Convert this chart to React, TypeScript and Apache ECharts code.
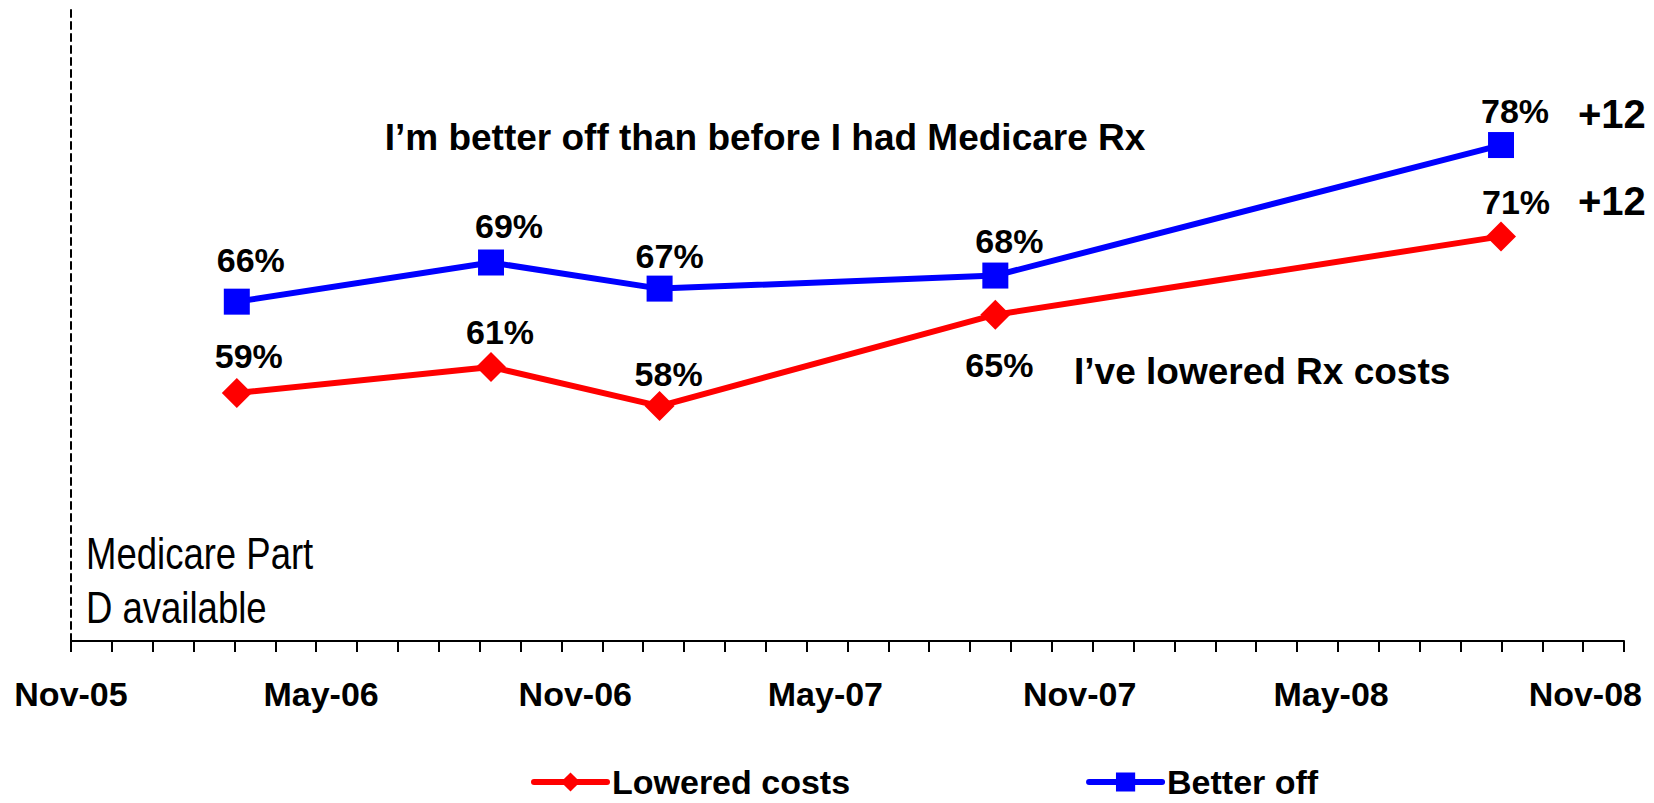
import React, { useEffect, useRef } from "react";
import * as echarts from "echarts";

const START = Date.UTC(2005, 10, 1);
const dayOf = (s: string) => {
  const [y, m, d] = s.split("-").map(Number);
  return (Date.UTC(y, m - 1, d) - START) / 86400000;
};

const surveyDates = ["2006-03-01", "2006-09-01", "2007-01-01", "2007-09-01", "2008-09-01"];
const loweredCosts = [59, 61, 58, 65, 71];
const betterOff = [66, 69, 67, 68, 78];
const tickLabelDates = ["2005-11-01", "2006-05-01", "2006-11-01", "2007-05-01", "2007-11-01", "2008-05-01", "2008-11-01"];
const tickLabels = ["Nov-05", "May-06", "Nov-06", "May-07", "Nov-07", "May-08", "Nov-08"];
const changeLabels = ["+12", "+12"];
const seriesNames = ["Lowered costs", "Better off"];

const loweredOffsets = [[12, -37], [9, -35], [9, -32], [4, 50], [15, -34]];
const betterOffsets = [[14, -42], [18, -37], [10, -33], [14, -35], [14, -34]];

const AXIS_MAX_DAYS = 1124;
const MINOR_DIVS = 38;
const FONT = "'Liberation Sans', Arial, sans-serif";

export default function App() {
  const ref = useRef<HTMLDivElement>(null);
  useEffect(() => {
    if (!ref.current) return;
    const chart = echarts.init(ref.current, null, { renderer: "svg" });
    const labelDays = tickLabelDates.map(dayOf);
    const minorTicks: number[] = [];
    for (let i = 0; i <= MINOR_DIVS; i++) minorTicks.push((i * AXIS_MAX_DAYS) / MINOR_DIVS);

    const mk = (vals: number[], offs: number[][]) =>
      vals.map((v, i) => ({
        value: [dayOf(surveyDates[i]), v],
        label: { offset: offs[i] },
      }));

    const labelStyle = {
      show: true,
      position: "inside" as const,
      formatter: (p: any) => `${p.value[1]}%`,
      color: "#000",
      fontSize: 34,
      fontWeight: "bold" as const,
      fontFamily: FONT,
    };

    const narrowText = (text: string, x: number, y: number) => ({
      type: "text",
      x,
      y,
      scaleX: 0.83,
      style: { text, fontSize: 44, fontFamily: FONT, fill: "#000", textAlign: "left", textVerticalAlign: "middle" },
    });

    chart.setOption({
      animation: false,
      backgroundColor: "#fff",
      grid: { left: 71, right: 30, top: 8, bottom: 162, containLabel: false },
      xAxis: {
        type: "value",
        min: 0,
        max: AXIS_MAX_DAYS,
        axisLine: { show: true, lineStyle: { color: "#000", width: 2 } },
        axisTick: { show: true, customValues: minorTicks, length: 11, lineStyle: { color: "#000", width: 2 } },
        axisLabel: {
          show: true,
          customValues: labelDays,
          margin: 36,
          color: "#000",
          fontSize: 34,
          fontWeight: "bold",
          fontFamily: FONT,
          formatter: (v: number) => {
            const idx = labelDays.findIndex((d) => Math.abs(d - v) < 0.5);
            return idx >= 0 ? tickLabels[idx] : "";
          },
        },
        splitLine: { show: false },
      },
      yAxis: {
        type: "value",
        min: 40,
        max: 88.5,
        axisLine: { show: true, lineStyle: { color: "#000", width: 2, type: [7, 5] } },
        axisTick: { show: false },
        axisLabel: { show: false },
        splitLine: { show: false },
      },
      legend: {
        left: 531,
        top: 765,
        padding: 0,
        itemWidth: 73,
        itemHeight: 24,
        itemGap: 236,
        lineStyle: { width: 6, cap: "round" },
        textStyle: { color: "#000", fontSize: 34, lineHeight: 34, fontWeight: "bold", fontFamily: FONT },
        data: seriesNames,
      },
      series: [
        {
          name: seriesNames[0],
          type: "line",
          data: mk(loweredCosts, loweredOffsets),
          symbol: "diamond",
          symbolSize: 30,
          lineStyle: { color: "#FF0000", width: 6 },
          itemStyle: { color: "#FF0000" },
          label: labelStyle,
          z: 3,
        },
        {
          name: seriesNames[1],
          type: "line",
          data: mk(betterOff, betterOffsets),
          symbol: "rect",
          symbolSize: 26,
          lineStyle: { color: "#0000FF", width: 6 },
          itemStyle: { color: "#0000FF" },
          label: labelStyle,
          z: 3,
        },
      ],
      graphic: [
        {
          type: "text",
          x: 765,
          y: 137,
          style: {
            text: "I’m better off than before I had Medicare Rx",
            fontSize: 37,
            fontWeight: "bold",
            fontFamily: FONT,
            fill: "#000",
            textAlign: "center",
            textVerticalAlign: "middle",
          },
        },
        {
          type: "text",
          x: 1074,
          y: 371,
          style: {
            text: "I’ve lowered Rx costs",
            fontSize: 37,
            fontWeight: "bold",
            fontFamily: FONT,
            fill: "#000",
            textAlign: "left",
            textVerticalAlign: "middle",
          },
        },
        {
          type: "text",
          x: 1578,
          y: 114,
          style: { text: changeLabels[1], fontSize: 40, fontWeight: "bold", fontFamily: FONT, fill: "#000", textAlign: "left", textVerticalAlign: "middle" },
        },
        {
          type: "text",
          x: 1578,
          y: 201,
          style: { text: changeLabels[0], fontSize: 40, fontWeight: "bold", fontFamily: FONT, fill: "#000", textAlign: "left", textVerticalAlign: "middle" },
        },
        narrowText("Medicare Part", 86, 554),
        narrowText("D available", 86, 608),
      ],
    });
    return () => chart.dispose();
  }, []);
  return <div ref={ref} style={{ position: "absolute", left: 0, top: 0, width: 1654, height: 803 }} />;
}
